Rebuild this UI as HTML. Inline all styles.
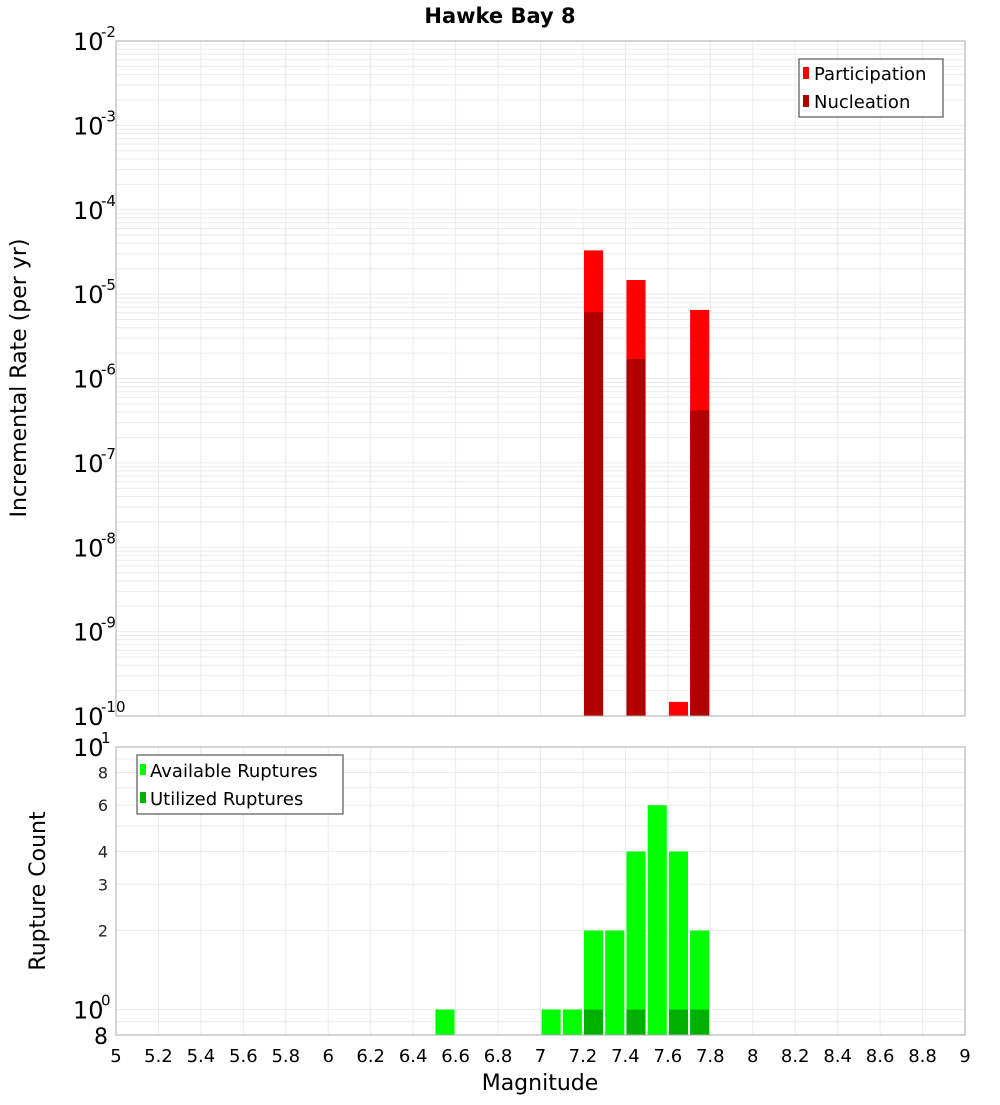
<!DOCTYPE html>
<html><head><meta charset="utf-8">
<style>
body{margin:0;background:#fff;font-family:"Liberation Sans","DejaVu Sans",sans-serif;}
svg text{font-family:"DejaVu Sans","Liberation Sans",sans-serif;}
</style></head>
<body>
<svg id="chart" width="1000" height="1100" xmlns="http://www.w3.org/2000/svg">
<text x="500" y="23" text-anchor="middle" font-size="21" font-weight="bold">Hawke Bay 8</text>
<g id="topPlot"></g>
<g id="botPlot"></g>
</svg>
<script>
const magCenters = [7.25, 7.45, 7.65, 7.75];
const participation = [3.3e-5, 1.47e-5, 1.47e-10, 6.5e-6];
const nucleation = [6.1e-6, 1.7e-6, null, 4.2e-7];
const countMags = [6.55, 7.05, 7.15, 7.25, 7.35, 7.45, 7.55, 7.65, 7.75];
const available = [1, 1, 1, 2, 2, 4, 6, 4, 2];
const utilized = [0, 0, 0, 1, 0, 1, 0, 1, 1];
const xTicks = [5,5.2,5.4,5.6,5.8,6,6.2,6.4,6.6,6.8,7,7.2,7.4,7.6,7.8,8,8.2,8.4,8.6,8.8,9];
const topExps = [-10,-9,-8,-7,-6,-5,-4,-3,-2];
const botTickVals = [2,3,4,6,8];

const NS="http://www.w3.org/2000/svg";
const L=116,R=965;
const T1=41,B1=716,T2=747,B2=1035;
const xs=m=>L+(m-5)/4*(R-L);
const y1=v=>B1-(Math.log10(v)+10)/8*(B1-T1);
const lmin=Math.log10(0.8);
const y2=v=>B2-(Math.log10(v)-lmin)/(1-lmin)*(B2-T2);
function mk(tag,attrs,parent,txt){const e=document.createElementNS(NS,tag);for(const k in attrs)e.setAttribute(k,attrs[k]);if(txt!==undefined)e.textContent=txt;parent.appendChild(e);return e;}
const gTop=document.getElementById('topPlot'),gBot=document.getElementById('botPlot');
const BW=0.09;

// top grid
for(let e=-10;e<-2;e++){for(let k=1;k<10;k++){const y=y1(k*Math.pow(10,e));mk('line',{x1:L,x2:R,y1:y,y2:y,stroke:'#ebebeb','stroke-width':1},gTop);}}
xTicks.forEach(t=>{const x=xs(t);mk('line',{x1:x,x2:x,y1:T1,y2:B1,stroke:'#ebebeb'},gTop);});
magCenters.forEach((m,i)=>{
  const x=xs(m-BW/2),w=xs(m+BW/2)-x;
  const yp=y1(participation[i]);
  const r=mk('rect',{x:x,y:yp,width:w,height:B1-yp,fill:'#ff0000'},gTop);
  
  
  if(nucleation[i]!==null){const yn=y1(nucleation[i]);
  const n=mk('rect',{x:x,y:yn,width:w,height:B1-yn,fill:'#b00000'},gTop);
  
  }
});
mk('rect',{x:L,y:T1,width:R-L,height:B1-T1,fill:'none',stroke:'#aaa'},gTop);
topExps.forEach(e=>{const y=y1(Math.pow(10,e));
  const t=mk('text',{x:73,y:y+9,'font-size':24},gTop,'10');
  
  
  mk('text',{x:101,y:y-4,'font-size':15},gTop,String(e));});
const yt=mk('text',{x:0,y:0,'font-size':22,'text-anchor':'middle',transform:'translate(26,378) rotate(-90)'},gTop,'Incremental Rate (per yr)');


const lg=mk('g',{},gTop);


mk('rect',{x:799,y:59,width:144,height:58,fill:'#fff',stroke:'#333'},lg);
mk('rect',{x:803,y:67,width:6,height:12,fill:'#ff0000'},lg);
mk('text',{x:814,y:80,'font-size':18},lg,'Participation');
mk('rect',{x:803,y:95,width:6,height:12,fill:'#b00000'},lg);
mk('text',{x:814,y:108,'font-size':18},lg,'Nucleation');

// bottom grid
[0.8,0.9,1,2,3,4,5,6,7,8,9,10].forEach(v=>{const y=y2(v);mk('line',{x1:L,x2:R,y1:y,y2:y,stroke:'#ebebeb'},gBot);});
xTicks.forEach(t=>{const x=xs(t);mk('line',{x1:x,x2:x,y1:T2,y2:B2,stroke:'#ebebeb'},gBot);});
countMags.forEach((m,i)=>{
  const x=xs(m-BW/2),w=xs(m+BW/2)-x;
  const ya=y2(available[i]);
  const a=mk('rect',{x:x,y:ya,width:w,height:B2-ya,fill:'#00ff00'},gBot);
  
  
  if(utilized[i]>0){const yu=y2(utilized[i]);
  const u=mk('rect',{x:x,y:yu,width:w,height:B2-yu,fill:'#00b000'},gBot);
  
  }
});
mk('rect',{x:L,y:T2,width:R-L,height:B2-T2,fill:'none',stroke:'#aaa'},gBot);
mk('text',{x:73,y:y2(10)+9,'font-size':24},gBot,'10');
mk('text',{x:101,y:y2(10)-4,'font-size':15},gBot,'1');
mk('text',{x:73,y:y2(1)+9,'font-size':24},gBot,'10');
mk('text',{x:101,y:y2(1)-4,'font-size':15},gBot,'0');
mk('text',{x:108,y:B2+9,'font-size':22,'text-anchor':'end'},gBot,'8');
botTickVals.forEach(v=>{const t=mk('text',{x:108,y:y2(v)+6,'font-size':16,'text-anchor':'end',fill:'#222'},gBot,String(v));
  
  });
const yt2=mk('text',{x:0,y:0,'font-size':22,'text-anchor':'middle',transform:'translate(45,891) rotate(-90)'},gBot,'Rupture Count');


const lg2=mk('g',{},gBot);


mk('rect',{x:137,y:755,width:206,height:59,fill:'#fff',stroke:'#333'},lg2);
mk('rect',{x:140,y:764,width:6,height:11,fill:'#00ff00'},lg2);
mk('text',{x:150,y:777,'font-size':18},lg2,'Available Ruptures');
mk('rect',{x:140,y:792,width:6,height:11,fill:'#00b000'},lg2);
mk('text',{x:150,y:805,'font-size':18},lg2,'Utilized Ruptures');
xTicks.forEach(t=>{const tx=mk('text',{x:xs(t),y:1062,'font-size':18,'text-anchor':'middle'},gBot,String(t));
  
  });
const xt=mk('text',{x:540,y:1090,'font-size':22,'text-anchor':'middle'},gBot,'Magnitude');


</script>
</body></html>
